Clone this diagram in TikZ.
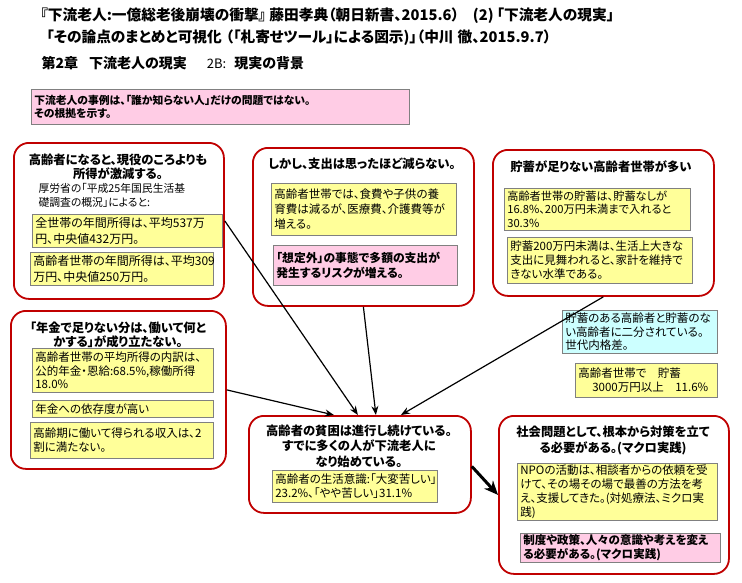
\documentclass[tikz,border=0pt]{standalone}
\usepackage{fontspec}
\setmainfont{Noto Sans CJK JP}[RawFeature=+palt]
\usetikzlibrary{arrows.meta}
\definecolor{Red}{HTML}{C00000}
\definecolor{Yel}{HTML}{FFFF99}
\definecolor{Pnk}{HTML}{FFCCE5}
\definecolor{Cyn}{HTML}{CCFFFF}
\definecolor{Edge}{HTML}{808080}
\begin{document}
\begin{tikzpicture}[x=1pt,y=-1pt,>={Stealth[length=9pt,width=7pt]},line width=1.2pt,
grp/.style={draw=Red,line width=1.8pt,rounded corners=15pt,anchor=north west,inner sep=0pt},
n/.style={draw=Edge,line width=.6pt,fill=#1,anchor=north west,align=left,inner xsep=3pt,inner ysep=1pt,font=\fontsize{11.5}{14}\selectfont},
hd/.style={font=\bfseries\fontsize{12.3}{14}\selectfont,align=center},
top/.style={anchor=west,inner sep=0pt,font=\bfseries\fontsize{14.7}{16}\selectfont}]
\fill[white] (0,0) rectangle (742,582);
% title lines
\path (40,16) node[top] (H1) {『下流老人:一億総老後崩壊の衝撃』 藤田孝典（朝日新書、2015.6）\hspace{14pt}(2)\hspace{3pt}「下流老人の現実」}
(46,38) node[top] (H2) {「その論点のまとめと可視化\hspace{4pt}（「札寄せツール」による図示)」（中川\hspace{4pt}徹、2015.9.7）}
(41,63) node[top,font=\bfseries\fontsize{14}{16}\selectfont] (H3) {第2章\hspace{11pt}下流老人の現実\hspace{20pt}{\mdseries\fontsize{13}{16}\selectfont 2B:}\hspace{8pt}現実の背景};
\node[n=Pnk,text width=372pt,minimum height=35pt,font=\bfseries\fontsize{10.8}{13.5}\selectfont] (P) at (31,89)
{下流老人の事例は、「誰か知らない人」だけの問題ではない。\\その根拠を示す。};
% the six groups
\path
(13,142) node[grp,minimum width=210pt,minimum height=156pt] (TL) {}
(252,147) node[grp,minimum width=221pt,minimum height=158pt] (TM) {}
(492,149) node[grp,minimum width=221pt,minimum height=146pt] (TR) {}
(10,310) node[grp,minimum width=215pt,minimum height=158pt] (ML) {}
(248,415) node[grp,minimum width=222pt,minimum height=97pt] (C) {}
(498,415) node[grp,minimum width=230pt,minimum height=158pt] (BR) {};
\path
(118,167) node[hd] (TLt) {高齢者になると、現役のころよりも\\所得が激減する。}
(362,164) node[hd] (TMt) {しかし、支出は思ったほど減らない。}
(601,167) node[hd] (TRt) {貯蓄が足りない高齢者世帯が多い}
(118,335) node[hd] (MLt) {「年金で足りない分は、働いて何と\\かする」が成り立たない。}
(359,446) node[hd,font=\bfseries\fontsize{12.3}{15.5}\selectfont] (Ct) {高齢者の貧困は進行し続けている。\\すでに多くの人が下流老人に\\なり始めている。}
(613,440) node[hd,font=\bfseries\fontsize{12.3}{16}\selectfont] (BRt) {社会問題として、根本から対策を立て\\る必要がある。(マクロ実践)};
\node[anchor=west,align=left,inner sep=0pt,font=\fontsize{10.8}{14}\selectfont] (TLp) at (38,195)
{厚労省の「平成25年国民生活基\\礎調査の概況」によると:};
% yellow, pink and cyan notes
\node[n=Yel,text width=184pt,minimum height=33pt,font=\fontsize{12}{16}\selectfont] (TLa) at (32,214) {全世帯の年間所得は、平均537万\\円、中央値432万円。};
\node[n=Yel,text width=177pt,minimum height=33pt,font=\fontsize{12}{16}\selectfont] (TLb) at (30,252) {高齢者世帯の年間所得は、平均309\\万円、中央値250万円。};
\node[n=Yel,text width=179pt,minimum height=52pt,font=\fontsize{11.5}{15}\selectfont] (TMa) at (271,183) {高齢者世帯では、食費や子供の養\\育費は減るが、医療費、介護費等が\\増える。};
\node[n=Pnk,text width=178pt,minimum height=40pt,font=\bfseries\fontsize{11.8}{15}\selectfont] (TMb) at (273,245) {「想定外」の事態で多額の支出が\\発生するリスクが増える。};
\node[n=Yel,text width=180pt,minimum height=42pt,font=\fontsize{11.2}{13.5}\selectfont] (TRa) at (504,188) {高齢者世帯の貯蓄は、貯蓄なしが\\16.8\%、200万円未満まで入れると\\30.3\%};
\node[n=Yel,text width=179pt,minimum height=46pt] (TRb) at (507,237) {貯蓄200万円未満は、生活上大きな\\支出に見舞われると、家計を維持で\\きない水準である。};
\node[n=Yel,text width=175pt,minimum height=44pt,font=\fontsize{11.5}{13.5}\selectfont] (MLa) at (32,348) {高齢者世帯の平均所得の内訳は、\\公的年金・恩給:68.5\%,稼働所得\\18.0\%};
\node[n=Yel,text width=175pt,minimum height=17pt] (MLb) at (32,400) {年金への依存度が高い};
\node[n=Yel,text width=177pt,minimum height=36pt] (MLc) at (30,422) {高齢期に働いて得られる収入は、2\\割に満たない。};
\node[n=Cyn,text width=149pt,minimum height=43pt,font=\fontsize{11.5}{13.5}\selectfont] (CY) at (562,310) {貯蓄のある高齢者と貯蓄のな\\い高齢者に二分されている。\\世代内格差。};
\node[n=Yel,text width=136pt,minimum height=34pt] (YS) at (575,363) {高齢者世帯で　貯蓄\\\hspace*{14pt}3000万円以上　11.6\%};
\node[n=Yel,text width=159pt,minimum height=32pt] (Ca) at (272,470) {高齢者の生活意識:「大変苦しい」\\23.2\%、「やや苦しい」31.1\%};
\node[n=Yel,text width=194pt,minimum height=57pt] (BRa) at (517,463) {NPOの活動は、相談者からの依頼を受\\けて、その場その場で最善の方法を考\\え、支援してきた。(対処療法、ミクロ実\\践)};
\node[n=Pnk,text width=194pt,minimum height=29pt,font=\bfseries\fontsize{11.5}{14}\selectfont] (BRb) at (520,533) {制度や政策、人々の意識や考えを変え\\る必要がある。(マクロ実践)};
% connectors
\draw[->] (TL.east) -- ([xshift=-2pt]C.north);
\draw[->] (ML.east) -- ([xshift=-26pt]C.north);
\draw[->] (TM.south) -- ([xshift=16pt]C.north);
\draw[->] (TR.south) -- ([xshift=41pt]C.north);
\draw[-{Stealth[length=14pt,width=12pt]},line width=3pt] ([yshift=-2pt]C.east) -- (BR.west);
\end{tikzpicture}
\end{document}
